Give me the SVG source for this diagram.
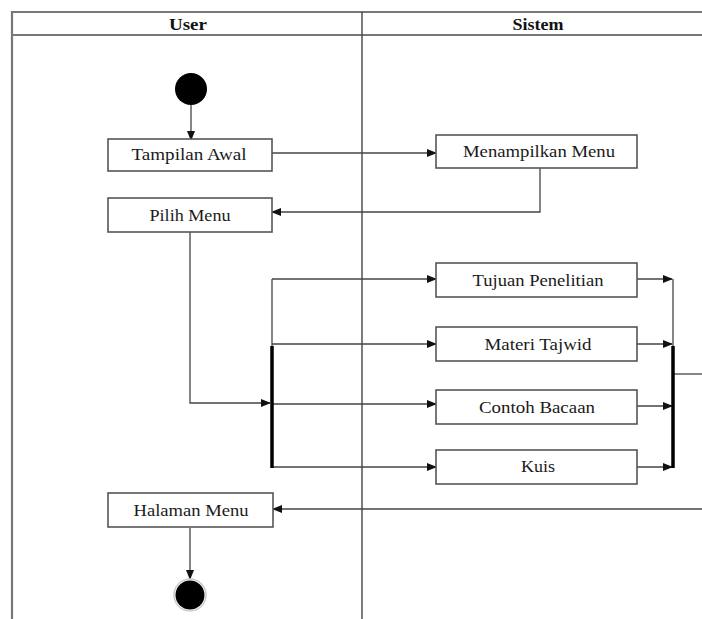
<svg xmlns="http://www.w3.org/2000/svg" width="702" height="619" viewBox="0 0 702 619">
<defs>
<marker id="arr" markerWidth="10" markerHeight="8" refX="9" refY="4" orient="auto" markerUnits="userSpaceOnUse">
<path d="M0,0 L10,4 L0,8 z" fill="#111"/>
</marker>
<style>
.lane{fill:none;stroke:#444;stroke-width:1.4}
.hdr{fill:none;stroke:#777;stroke-width:2.2}
.box{fill:#fff;stroke:#555;stroke-width:1.6}
.t{font-family:"Liberation Serif","Times New Roman",serif;font-size:17px;fill:#1a1a1a;text-anchor:middle}
.h{font-family:"Liberation Serif","Times New Roman",serif;font-size:17px;font-weight:bold;fill:#111;text-anchor:middle}
.c{fill:none;stroke:#444;stroke-width:1.3}
.ca{fill:none;stroke:#444;stroke-width:1.3;marker-end:url(#arr)}
.bar{stroke:#000;stroke-width:3.5}
</style>
</defs>
<rect width="702" height="619" fill="#fff"/>
<g id="swimlanes">
<line class="hdr" x1="12" y1="12" x2="702" y2="12"/>
<line class="hdr" x1="12" y1="35" x2="702" y2="35"/>
<line class="hdr" x1="12" y1="11" x2="12" y2="619"/>
<line class="lane" x1="362" y1="12" x2="362" y2="619"/>
<text class="h" x="188" y="30" textLength="38" lengthAdjust="spacingAndGlyphs">User</text>
<text class="h" x="538" y="30" textLength="51" lengthAdjust="spacingAndGlyphs">Sistem</text>
</g>
<g id="connectors">
<line class="ca" x1="191" y1="104" x2="191" y2="140"/>
<line class="ca" x1="272" y1="153" x2="436" y2="153"/>
<polyline class="ca" points="540,168 540,212 272,212"/>
<polyline class="ca" points="190,232 190,403 270,403"/>
<polyline class="c" points="272,346 272,279"/>
<line class="ca" x1="272" y1="279" x2="436" y2="279"/>
<line class="ca" x1="272" y1="344" x2="436" y2="344"/>
<line class="ca" x1="272" y1="404" x2="436" y2="404"/>
<line class="ca" x1="272" y1="467" x2="436" y2="467"/>
<line class="ca" x1="637" y1="279" x2="672" y2="279"/>
<line class="ca" x1="637" y1="344" x2="672" y2="344"/>
<line class="ca" x1="637" y1="406" x2="672" y2="406"/>
<line class="ca" x1="637" y1="467" x2="672" y2="467"/>
<polyline class="c" points="673,279 673,346"/>
<line class="c" x1="673" y1="374" x2="702" y2="374"/>
<line class="ca" x1="702" y1="509" x2="273" y2="509"/>
<line class="ca" x1="190" y1="528" x2="190" y2="579"/>
</g>
<g id="fork"><line class="bar" x1="272" y1="346" x2="272" y2="468"/></g>
<g id="join"><line class="bar" x1="673" y1="346" x2="673" y2="468"/></g>
<g id="start"><circle cx="191" cy="89" r="16" fill="#000"/></g>
<g id="tampilan-awal"><rect class="box" x="108" y="139" width="164" height="32"/><text class="t" x="189" y="160" textLength="115" lengthAdjust="spacingAndGlyphs">Tampilan Awal</text></g>
<g id="menampilkan-menu"><rect class="box" x="436" y="135" width="201" height="33"/><text class="t" x="539" y="157" textLength="152" lengthAdjust="spacingAndGlyphs">Menampilkan Menu</text></g>
<g id="pilih-menu"><rect class="box" x="108" y="198" width="164" height="34"/><text class="t" x="190" y="221" textLength="81" lengthAdjust="spacingAndGlyphs">Pilih Menu</text></g>
<g id="tujuan-penelitian"><rect class="box" x="436" y="263" width="201" height="34"/><text class="t" x="538" y="286" textLength="131" lengthAdjust="spacingAndGlyphs">Tujuan Penelitian</text></g>
<g id="materi-tajwid"><rect class="box" x="436" y="327" width="201" height="34"/><text class="t" x="538" y="350" textLength="107" lengthAdjust="spacingAndGlyphs">Materi Tajwid</text></g>
<g id="contoh-bacaan"><rect class="box" x="436" y="390" width="201" height="34"/><text class="t" x="537" y="413" textLength="116" lengthAdjust="spacingAndGlyphs">Contoh Bacaan</text></g>
<g id="kuis"><rect class="box" x="436" y="450" width="201" height="34"/><text class="t" x="538" y="472" textLength="34" lengthAdjust="spacingAndGlyphs">Kuis</text></g>
<g id="halaman-menu"><rect class="box" x="108" y="493" width="165" height="34"/><text class="t" x="191" y="516" textLength="115" lengthAdjust="spacingAndGlyphs">Halaman Menu</text></g>
<g id="end"><circle cx="190" cy="595" r="16" fill="#fff" stroke="#ccc" stroke-width="1.5"/><circle cx="190" cy="595" r="14.5" fill="#000"/></g>
</svg>
